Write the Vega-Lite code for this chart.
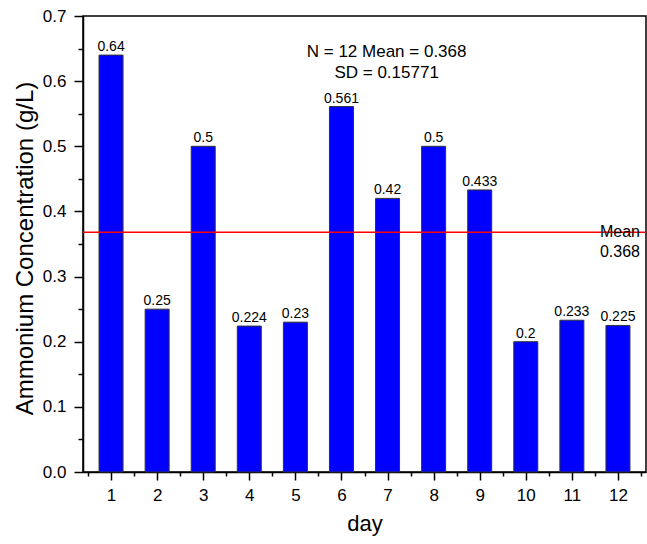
{
  "$schema": "https://vega.github.io/schema/vega-lite/v6.json",
  "width": 563,
  "height": 456,
  "autosize": {"type": "none"},
  "padding": {"left": 83, "top": 16, "right": 1, "bottom": 72},
  "background": "white",
  "config": {
    "font": "Liberation Sans",
    "view": {"stroke": "#000", "strokeWidth": 1.5},
    "axis": {
      "grid": false,
      "domainColor": "#000",
      "domainWidth": 1.5,
      "tickColor": "#000",
      "tickWidth": 1.5,
      "labelColor": "#000",
      "labelFontSize": 17,
      "titleColor": "#000",
      "titleFontSize": 22,
      "titleFontWeight": "normal",
      "labelFlush": false,
      "labelOverlap": false
    }
  },
  "datasets": {
    "bars": [
      {"day": 1, "value": 0.64},
      {"day": 2, "value": 0.25},
      {"day": 3, "value": 0.5},
      {"day": 4, "value": 0.224},
      {"day": 5, "value": 0.23},
      {"day": 6, "value": 0.561},
      {"day": 7, "value": 0.42},
      {"day": 8, "value": 0.5},
      {"day": 9, "value": 0.433},
      {"day": 10, "value": 0.2},
      {"day": 11, "value": 0.233},
      {"day": 12, "value": 0.225}
    ],
    "mean": [{"mean": 0.368, "label": "Mean\n0.368"}],
    "stats": [{"text": "N = 12 Mean = 0.368\nSD = 0.15771"}]
  },
  "layer": [
    {
      "data": {"name": "bars"},
      "mark": {"type": "bar", "size": 24, "fill": "#0000ff", "stroke": "#333333", "strokeWidth": 1},
      "encoding": {
        "x": {
          "field": "day", "type": "quantitative",
          "scale": {"domain": [0.5, 12.5], "nice": false, "zero": false},
          "axis": {"orient": "bottom", "values": [1,2,3,4,5,6,7,8,9,10,11,12], "tickSize": 8, "labelPadding": 7, "title": "day", "titlePadding": 10}
        },
        "y": {
          "field": "value", "type": "quantitative",
          "scale": {"domain": [0, 0.7], "nice": false},
          "axis": {"orient": "left", "values": [0,0.1,0.2,0.3,0.4,0.5,0.6,0.7], "format": ".1f", "tickSize": 9, "labelPadding": 8, "title": "Ammonium Concentration (g/L)", "titleFontSize": 24, "titlePadding": 5, "titleY": 232}
        }
      }
    },
    {
      "data": {"name": "bars"},
      "mark": {"type": "text", "baseline": "bottom", "dy": -1, "fontSize": 14, "color": "#000"},
      "encoding": {
        "x": {
          "field": "day", "type": "quantitative",
          "axis": {"orient": "bottom", "values": [0.5,1.5,2.5,3.5,4.5,5.5,6.5,7.5,8.5,9.5,10.5,11.5,12.5], "tickSize": 4, "labels": false, "domain": false, "title": null}
        },
        "y": {
          "field": "value", "type": "quantitative",
          "axis": {"orient": "left", "values": [0.05,0.15,0.25,0.35,0.45,0.55,0.65], "tickSize": 5, "labels": false, "domain": false, "title": null}
        },
        "text": {"field": "value", "type": "nominal"}
      }
    },
    {
      "data": {"name": "mean"},
      "mark": {"type": "rule", "color": "#ff0000", "strokeWidth": 1.5},
      "encoding": {
        "y": {"field": "mean", "type": "quantitative", "axis": null}
      }
    },
    {
      "data": {"name": "mean"},
      "mark": {"type": "text", "align": "right", "baseline": "middle", "lineBreak": "\n", "lineHeight": 20, "fontSize": 16, "dx": -1, "color": "#000"},
      "encoding": {
        "x": {"datum": 12.5, "type": "quantitative", "axis": null},
        "y": {"field": "mean", "type": "quantitative", "axis": null},
        "text": {"field": "label"}
      }
    },
    {
      "data": {"name": "stats"},
      "mark": {"type": "text", "align": "center", "baseline": "middle", "lineBreak": "\n", "lineHeight": 21, "fontSize": 17, "color": "#000"},
      "encoding": {
        "x": {"datum": 6.98, "type": "quantitative", "axis": null},
        "y": {"datum": 0.6455, "type": "quantitative", "axis": null},
        "text": {"field": "text"}
      }
    }
  ],
  "resolve": {"axis": {"x": "independent", "y": "independent"}}
}
